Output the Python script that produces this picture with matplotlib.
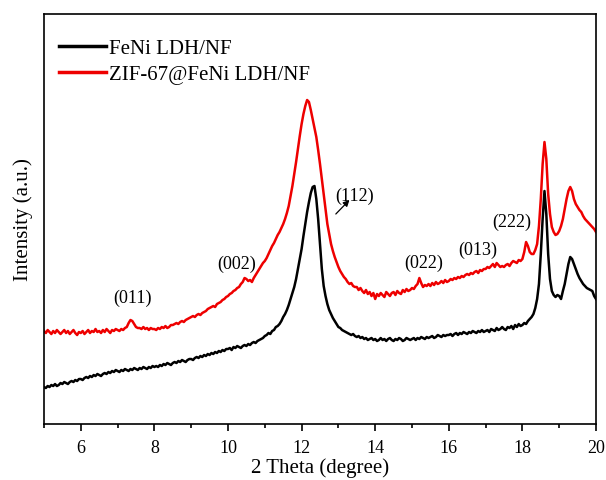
import numpy as np
import matplotlib
matplotlib.use('Agg')
import matplotlib.pyplot as plt
from matplotlib.ticker import MultipleLocator

plt.rcParams['font.family'] = ['Liberation Serif', 'DejaVu Serif']

# 2 theta grid, 0.05 degree steps from 5 to 20
two_theta = np.round(np.arange(301) * 0.05 + 5.0, 2)

# FeNi LDH/NF (arbitrary units)
feni = [
    37, 36, 38, 37, 39, 38, 40, 38, 39, 41, 40, 42, 41, 40, 42, 43, 42, 44, 43, 45,
    45, 44, 46, 47, 46, 48, 47, 49, 48, 50, 49, 48, 50, 51, 50, 52, 51, 53, 52, 54,
    53, 52, 54, 53, 55, 54, 53, 55, 54, 56, 55, 54, 56, 55, 57, 56, 55, 57, 56, 58,
    57, 58, 57, 59, 58, 60, 59, 61, 60, 59, 61, 62, 61, 63, 62, 64, 63, 62, 64, 65,
    65, 64, 66, 67, 66, 68, 67, 69, 68, 70, 69, 71, 70, 72, 71, 73, 72, 74, 73, 75,
    75, 76, 74, 77, 76, 78, 77, 76, 78, 79, 78, 80, 79, 81, 82, 81, 83, 84, 85, 86,
    88, 89, 91, 90, 93, 94, 97, 98, 100, 103, 107, 110, 114, 119, 125, 131, 137, 145, 155, 165,
    175, 188, 200, 212, 222, 231, 237, 238, 225, 205, 180, 155, 138, 128, 120, 114, 110, 106, 103, 100,
    97, 96, 94, 93, 92, 91, 90, 89, 90, 88, 87, 88, 86, 87, 85, 86, 84, 85, 86, 84,
    85, 83, 84, 86, 84, 85, 83, 85, 86, 84, 83, 85, 84, 86, 85, 83, 84, 86, 85, 84,
    85, 86, 84, 86, 85, 87, 86, 85, 87, 86, 87, 88, 86, 87, 89, 88, 87, 89, 88, 89,
    89, 90, 88, 90, 91, 89, 91, 90, 92, 91, 90, 92, 91, 93, 92, 91, 93, 92, 94, 92,
    93, 94, 92, 95, 94, 93, 96, 94, 95, 97, 95, 94, 97, 96, 98, 95, 99, 97, 100, 98,
    99, 101, 100, 103, 105, 107, 110, 116, 125, 140, 170, 205, 233, 210, 170, 145, 133, 129, 127, 129,
    128, 125, 133, 140, 150, 160, 167, 165, 160, 155, 150, 146, 143, 140, 138, 136, 135, 134, 133, 128,
    125,
]

# ZIF-67@FeNi LDH/NF
zif = [
    93, 91, 94, 92, 90, 93, 91, 94, 92, 90, 92, 94, 91, 93, 90, 92, 94, 91, 89, 92,
    91, 93, 90, 92, 94, 91, 93, 92, 95, 92, 93, 91, 94, 92, 95, 93, 91, 94, 93, 95,
    94, 93, 95, 94, 96, 97, 101, 104, 103, 100, 97, 96, 96, 95, 97, 95, 96, 94, 96, 95,
    95, 94, 96, 95, 97, 96, 98, 96, 97, 99, 99, 100, 101, 100, 102, 103, 102, 104, 105, 106,
    107, 108, 107, 109, 110, 109, 111, 112, 113, 115, 116, 117, 118, 117, 120, 121, 122, 124, 125, 127,
    128, 130, 131, 133, 134, 136, 137, 140, 142, 146, 145, 143, 144, 142, 146, 149, 152, 155, 158, 161,
    163, 166, 170, 174, 178, 181, 185, 189, 192, 196, 200, 205, 211, 218, 228, 238, 250, 262, 275, 288,
    300, 310, 318, 324, 322, 314, 305, 296, 287, 274, 260, 245, 230, 215, 200, 190, 180, 173, 167, 162,
    157, 153, 150, 147, 145, 142, 140, 141, 138, 137, 137, 134, 136, 133, 131, 134, 130, 132, 128, 131,
    125, 130, 128, 131, 129, 127, 132, 130, 128, 131, 132, 129, 133, 131, 130, 134, 132, 135, 133, 134,
    136, 135, 138, 140, 146, 141, 137, 139, 138, 140, 138, 141, 139, 142, 140, 141, 143, 141, 144, 142,
    143, 145, 144, 146, 145, 147, 146, 148, 147, 149, 150, 149, 151, 150, 152, 153, 151, 154, 153, 155,
    155, 157, 156, 158, 160, 157, 161, 159, 157, 158, 157, 159, 160, 158, 161, 163, 162, 161, 164, 163,
    165, 172, 182, 178, 172, 170, 170, 174, 180, 198, 225, 260, 282, 265, 230, 210, 197, 192, 189, 190,
    193, 198, 205, 215, 225, 233, 237, 233, 225, 220, 217, 214, 212, 208, 205, 203, 201, 199, 197, 195,
    192,
]

series_names = ['FeNi LDH/NF', 'ZIF-67@FeNi LDH/NF']
peak_labels = ['(011)', '(002)', '(022)', '(013)', '(222)']
peak_x = [7.4, 10.24, 15.31, 16.78, 17.71]
peak_y = [127, 161, 162, 175, 203]

fig = plt.figure(figsize=(6.06, 4.81), dpi=100)
ax = fig.add_axes([0.0726, 0.1164, 0.9109, 0.8524])

ax.plot(two_theta, feni, color='black', lw=1.8, label=series_names[0])
ax.plot(two_theta, zif, color='#ee0000', lw=1.8, label=series_names[1])

for lab, px, py in zip(peak_labels, peak_x, peak_y):
    ax.text(px, py, lab, fontsize=13, ha='center', va='center')

# (112) with its little arrow
ax.text(13.43, 229, '(112)', fontsize=13, ha='center', va='center')
ax.annotate('', xy=(13.3, 224), xytext=(12.93, 210),
            arrowprops=dict(arrowstyle='-|>', color='black', lw=0.9,
                            mutation_scale=9, shrinkA=0, shrinkB=0))

ax.set_xlim(5, 20)
ax.set_ylim(0, 410)
ax.xaxis.set_major_locator(MultipleLocator(2))
ax.xaxis.set_minor_locator(MultipleLocator(1))
ax.tick_params(axis='x', which='major', direction='out', length=5, width=1.2,
               labelsize=13, pad=6)
ax.tick_params(axis='x', which='minor', direction='out', length=3, width=1.2)
ax.set_yticks([])
for s in ax.spines.values():
    s.set_linewidth(1.2)

ax.set_xlabel('2 Theta (degree)', fontsize=15, labelpad=1)
ax.set_ylabel('Intensity (a.u.)', fontsize=15, labelpad=8)

leg = ax.legend(loc='upper left', bbox_to_anchor=(0.0, 0.975), frameon=False,
                fontsize=15, handlelength=2.3, handletextpad=0.1,
                labelspacing=0.3, borderaxespad=0.3)
for line in leg.get_lines():
    line.set_linewidth(2.5)

fig.savefig('out.png', dpi=100)
